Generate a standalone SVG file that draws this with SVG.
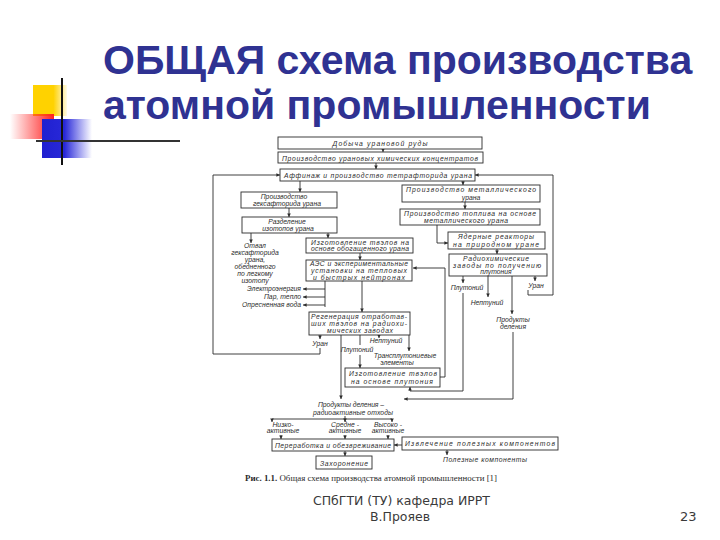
<svg xmlns="http://www.w3.org/2000/svg" width="720" height="540" viewBox="0 0 720 540">
<defs>
<style>
.box{fill:#fff;stroke:#2b2b2b;stroke-width:0.9}
.ln{fill:none;stroke:#2b2b2b;stroke-width:0.9}
.ar{fill:none;stroke:#2b2b2b;stroke-width:0.9;marker-end:url(#ah)}
.t{font-family:"Liberation Sans",Arial,sans-serif;font-style:italic;font-size:6.8px;fill:#2b2b2b;text-anchor:middle}
.te{font-family:"Liberation Sans",Arial,sans-serif;font-style:italic;font-size:6.8px;fill:#2b2b2b;text-anchor:end}
.title{font-family:"Liberation Sans",Arial,sans-serif;font-weight:bold;font-size:41px;fill:#2f3292}
.foot{font-family:"DejaVu Sans",Verdana,sans-serif;font-size:13px;fill:#3a3a3a}
.cap{font-family:"Liberation Serif","Times New Roman",serif;font-size:8.5px;fill:#2b2b2b}
</style>
<marker id="ah" viewBox="0 0 6 6" refX="6" refY="3" markerWidth="4" markerHeight="4" orient="auto"><path d="M0,0 L6,3 L0,6 z" fill="#2b2b2b"/></marker>
<linearGradient id="gY" x1="0" x2="1" y1="0" y2="0"><stop offset="0" stop-color="#ffd200"/><stop offset="0.6" stop-color="#ffd200"/><stop offset="1" stop-color="#ffd200" stop-opacity="0.1"/></linearGradient>
<linearGradient id="gR" x1="0" x2="1" y1="0" y2="0"><stop offset="0" stop-color="#ff2020" stop-opacity="0"/><stop offset="1" stop-color="#ff2020"/></linearGradient>
<linearGradient id="gB" x1="0" x2="1" y1="0" y2="0"><stop offset="0" stop-color="#2020d0"/><stop offset="0.45" stop-color="#2828d8"/><stop offset="1" stop-color="#3030e0" stop-opacity="0"/></linearGradient>
</defs>
<rect width="720" height="540" fill="#fff"/>

<g id="logo">
<rect x="33" y="85" width="34" height="31" fill="url(#gY)"/>
<rect x="10" y="114" width="44" height="25" fill="url(#gR)"/>
<rect x="42" y="119" width="50" height="39" fill="url(#gB)"/>
<line x1="62" y1="78" x2="62" y2="165" stroke="#111" stroke-width="2"/>
<line x1="36" y1="141" x2="180" y2="141" stroke="#333" stroke-width="2"/>
</g>

<g id="title">
<text class="title" x="103" y="74">ОБЩАЯ схема производства</text>
<text class="title" x="103" y="119">атомной промышленности</text>
</g>

<g id="connectors">
<line class="ar" x1="383" y1="149" x2="383" y2="152"/>
<line class="ar" x1="376" y1="163" x2="376" y2="169"/>
<line class="ar" x1="300" y1="181" x2="300" y2="192"/>
<line class="ar" x1="463" y1="181" x2="463" y2="185"/>
<line class="ar" x1="289" y1="208" x2="289" y2="217"/>
<line class="ar" x1="251" y1="233" x2="251" y2="243"/>
<line class="ar" x1="328" y1="233" x2="328" y2="238"/>
<line class="ar" x1="465" y1="202" x2="465" y2="209"/>
<path class="ar" d="M437 225 V243 H448"/>
<line class="ar" x1="497" y1="249" x2="497" y2="254"/>
<line class="ar" x1="360" y1="253" x2="360" y2="260"/>
<line class="ar" x1="362" y1="281" x2="362" y2="312"/>
<path class="ln" d="M325 281 V307"/>
<line class="ar" x1="325" y1="289" x2="303" y2="289"/>
<line class="ar" x1="325" y1="297" x2="303" y2="297"/>
<line class="ar" x1="325" y1="305" x2="303" y2="305"/>
<line class="ar" x1="320" y1="335" x2="320" y2="339"/>
<path class="ar" d="M320 348 V354 H213 V175 H280"/>
<line class="ln" x1="360" y1="335" x2="360" y2="345"/>
<line class="ar" x1="360" y1="355" x2="360" y2="368"/>
<line class="ar" x1="379" y1="335" x2="379" y2="338"/>
<line class="ar" x1="409" y1="335" x2="409" y2="351"/>
<line class="ar" x1="341" y1="335" x2="341" y2="399"/>
<path class="ar" d="M440 377 H445 V268 H413"/>
<line class="ar" x1="463" y1="276" x2="463" y2="283"/>
<path class="ar" d="M463 293 V391 H410 V387"/>
<line class="ar" x1="488" y1="276" x2="488" y2="297"/>
<line class="ar" x1="512" y1="276" x2="512" y2="314"/>
<path class="ar" d="M513 332 V399 H404"/>
<line class="ar" x1="535" y1="276" x2="535" y2="281"/>
<path class="ar" d="M528 290 V295 H553 V175 H475"/>
<line class="ln" x1="345" y1="416" x2="345" y2="419"/>
<line class="ln" x1="272" y1="419" x2="392" y2="419"/>
<line class="ar" x1="272" y1="419" x2="272" y2="422"/>
<line class="ar" x1="345" y1="419" x2="345" y2="422"/>
<line class="ar" x1="392" y1="419" x2="392" y2="422"/>
<line class="ar" x1="281" y1="435" x2="281" y2="439"/>
<line class="ar" x1="345" y1="435" x2="345" y2="439"/>
<line class="ar" x1="388" y1="435" x2="388" y2="439"/>
<line class="ar" x1="402" y1="445" x2="394" y2="445"/>
<line class="ar" x1="345" y1="451" x2="345" y2="456"/>
<line class="ar" x1="447" y1="450" x2="447" y2="455"/>
</g>

<g id="n-dobycha"><rect class="box" x="278" y="137" width="204" height="12"/><text class="t" x="380" y="146" textLength="95">Добыча урановой руды</text></g>
<g id="n-konc"><rect class="box" x="278" y="152" width="205" height="11"/><text class="t" x="380" y="160.5" textLength="196">Производство урановых химических концентратов</text></g>
<g id="n-affinazh"><rect class="box" x="280" y="169" width="195" height="12"/><text class="t" x="378" y="178" textLength="188">Аффинаж и производство тетрафторида урана</text></g>
<g id="n-geksa"><rect class="box" x="241" y="192" width="96" height="16"/><text class="t" x="284" y="199">Производство</text><text class="t" x="287" y="206">гексафторида урана</text></g>
<g id="n-razdel"><rect class="box" x="242" y="217" width="95" height="16"/><text class="t" x="287" y="224">Разделение</text><text class="t" x="288" y="231">изотопов урана</text></g>
<g id="n-otval"><text class="t" x="255" y="248">Отвал</text><text class="t" x="255" y="255">гексафторида</text><text class="t" x="255" y="262">урана,</text><text class="t" x="255" y="269">обедненного</text><text class="t" x="255" y="276">по легкому</text><text class="t" x="255" y="283">изотопу</text></g>
<g id="n-energy"><text class="te" x="301" y="291">Электроэнергия</text><text class="te" x="301" y="299">Пар, тепло</text><text class="te" x="301" y="307">Опресненная вода</text></g>
<g id="n-tvel-u"><rect class="box" x="306" y="238" width="107" height="15"/><text class="t" x="360" y="244.5" textLength="98">Изготовление твэлов на</text><text class="t" x="360" y="251" textLength="98">основе обогащенного урана</text></g>
<g id="n-aes"><rect class="box" x="306" y="260" width="106" height="21"/><text class="t" x="359" y="266" textLength="98">АЭС и экспериментальные</text><text class="t" x="359" y="273" textLength="96">установки на тепловых</text><text class="t" x="359" y="279.5" textLength="92">и быстрых нейтронах</text></g>
<g id="n-regen"><rect class="box" x="309" y="312" width="101" height="23"/><text class="t" x="359" y="318.5" textLength="96">Регенерация отработав-</text><text class="t" x="359" y="325.5" textLength="96">ших твэлов на радиохи-</text><text class="t" x="360" y="332.5" textLength="66">мических заводах</text></g>
<g id="n-regen-out"><text class="t" x="320" y="346">Уран</text><text class="t" x="357" y="352">Плутоний</text><text class="t" x="386" y="343">Нептуний</text><text class="t" x="405" y="358">Трансплутониевые</text><text class="t" x="397" y="364.5">элементы</text></g>
<g id="n-tvel-pu"><rect class="box" x="345" y="368" width="95" height="19"/><text class="t" x="393" y="375.5" textLength="88">Изготовление твэлов</text><text class="t" x="392" y="383.5" textLength="82">на основе плутония</text></g>
<g id="n-metal"><rect class="box" x="402" y="185" width="138" height="17"/><text class="t" x="471" y="192" textLength="130">Производство металлического</text><text class="t" x="471" y="199.5">урана</text></g>
<g id="n-toplivo"><rect class="box" x="400" y="209" width="140" height="16"/><text class="t" x="470" y="216" textLength="132">Производство топлива на основе</text><text class="t" x="466" y="223" textLength="84">металлического урана</text></g>
<g id="n-reactor"><rect class="box" x="448" y="232" width="97" height="17"/><text class="t" x="496" y="239" textLength="76">Ядерные реакторы</text><text class="t" x="496" y="246.5" textLength="86">на природном уране</text></g>
<g id="n-radiochem"><rect class="box" x="449" y="254" width="98" height="22"/><text class="t" x="496" y="261" textLength="66">Радиохимические</text><text class="t" x="497" y="267.5" textLength="88">заводы по получению</text><text class="t" x="496" y="274">плутония</text></g>
<g id="n-radiochem-out"><text class="t" x="467" y="290">Плутоний</text><text class="t" x="487" y="305">Нептуний</text><text class="t" x="513" y="322">Продукты</text><text class="t" x="513" y="329">деления</text><text class="t" x="536" y="288">Уран</text></g>
<g id="n-waste"><text class="t" x="351" y="407" textLength="66">Продукты деления –</text><text class="t" x="353" y="415" textLength="80">радиоактивные отходы</text></g>
<g id="n-levels"><text class="t" x="283" y="427">Низко-</text><text class="t" x="283" y="433">активные</text><text class="t" x="345" y="427">Средне -</text><text class="t" x="345" y="433">активные</text><text class="t" x="388" y="427">Высоко -</text><text class="t" x="388" y="433">активные</text></g>
<g id="n-pererab"><rect class="box" x="272" y="439" width="122" height="12"/><text class="t" x="333" y="448" textLength="116">Переработка и обезвреживание</text></g>
<g id="n-izvlech"><rect class="box" x="402" y="437" width="156" height="13"/><text class="t" x="480" y="446" textLength="150">Извлечение полезных компонентов</text></g>
<g id="n-polez"><text class="t" x="485" y="462" textLength="84">Полезные компоненты</text></g>
<g id="n-zahoron"><rect class="box" x="316" y="456" width="56" height="13"/><text class="t" x="344" y="465.5" textLength="48">Захоронение</text></g>
<text class="cap" x="245" y="481" textLength="252" lengthAdjust="spacingAndGlyphs"><tspan font-weight="bold">Рис. 1.1.</tspan> Общая схема производства атомной промышленности [1]</text>

<g id="footer">
<text class="foot" x="313" y="505" textLength="177" lengthAdjust="spacingAndGlyphs">СПбГТИ (ТУ) кафедра ИРРТ</text>
<text class="foot" x="370" y="521" textLength="60" lengthAdjust="spacingAndGlyphs">В.Прояев</text>
<text class="foot" x="680" y="521">23</text>
</g>
</svg>
